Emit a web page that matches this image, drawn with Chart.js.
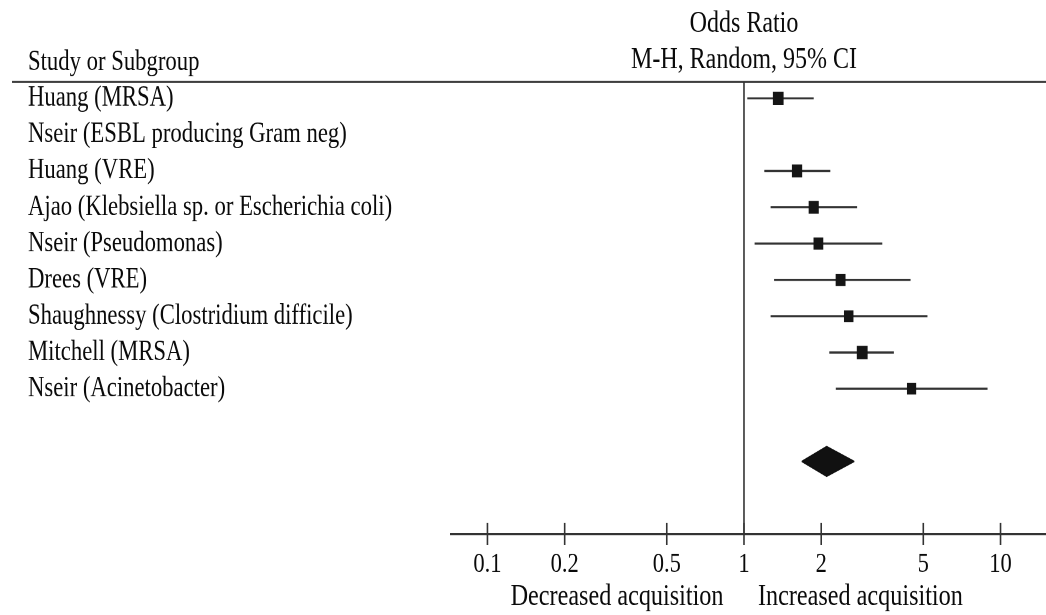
<!DOCTYPE html>
<html>
<head>
<meta charset="utf-8">
<script src="https://cdn.jsdelivr.net/npm/chart.js@4.4.1/dist/chart.umd.min.js"></script>
<style>
  html, body { margin: 0; padding: 0; background: #ffffff; width: 1046px; height: 615px; }
  #wrap { width: 1046px; height: 492px; transform: scaleY(1.25); transform-origin: 0 0; }
  canvas { display: block; }
</style>
</head>
<body>
<div id="wrap"><canvas id="c" width="1046" height="492"></canvas></div>
<script>
// ---- data ----
const studies = [
  'Huang (MRSA)',
  'Nseir (ESBL producing Gram neg)',
  'Huang (VRE)',
  'Ajao (Klebsiella sp. or Escherichia coli)',
  'Nseir (Pseudomonas)',
  'Drees (VRE)',
  'Shaughnessy (Clostridium difficile)',
  'Mitchell (MRSA)',
  'Nseir (Acinetobacter)'
];
const oddsRatio = [1.36, null, 1.61, 1.87, 1.95, 2.38, 2.56, 2.89, 4.50];
const ciLower   = [1.03, null, 1.20, 1.27, 1.10, 1.31, 1.27, 2.15, 2.28];
const ciUpper   = [1.87, null, 2.17, 2.76, 3.46, 4.46, 5.19, 3.84, 8.90];
const weights   = [14.5, null, 12.5, 12, 10.5, 11, 9.5, 15, 8.5]; // estimated from square size
const pooledOR = 2.10;
const pooledLower = 1.68;
const pooledUpper = 2.69;
const pooledRow = 10;
const xTicks = [0.1, 0.2, 0.5, 1, 2, 5, 10];
const xMin = 0.0721, xMax = 15.04;
const yMin = -0.45, yMax = 12;

const SERIF = '"Liberation Serif", "Times New Roman", serif';
const TEXT = '#0a0a0a';
const LINE = '#333333';

// ---- build datasets ----
const squares = [];
const ciSets = [];
studies.forEach((s, i) => {
  if (oddsRatio[i] == null) return;
  squares.push({x: oddsRatio[i], y: i, w: weights[i]});
  ciSets.push({
    type: 'line', order: 1,
    data: [{x: ciLower[i], y: i}, {x: ciUpper[i], y: i}],
    borderColor: LINE, borderWidth: 1.7, pointRadius: 0, fill: false
  });
});
const dH = 0.41;
const diamondTop = [
  {x: pooledLower, y: pooledRow}, {x: pooledOR, y: pooledRow - dH}, {x: pooledUpper, y: pooledRow}
];
const diamondBottom = [
  {x: pooledLower, y: pooledRow}, {x: pooledOR, y: pooledRow + dH}, {x: pooledUpper, y: pooledRow}
];
const noEffect = [{x: 1, y: yMin}, {x: 1, y: yMax}];
const tickMarks = xTicks.map(v => ({x: v, y: yMax}));

const decor = {
  id: 'decor',
  afterDraw(chart) {
    const ctx = chart.ctx;
    const xs = chart.scales.x;
    const ca = chart.chartArea;
    const x1 = xs.getPixelForValue(1);
    ctx.save();
    ctx.strokeStyle = LINE;
    ctx.lineWidth = 1.6;
    ctx.beginPath();
    ctx.moveTo(12, ca.top);
    ctx.lineTo(chart.width, ca.top);
    ctx.stroke();
    ctx.fillStyle = TEXT;
    ctx.textBaseline = 'alphabetic';
    ctx.font = '24px ' + SERIF;
    ctx.textAlign = 'center';
    ctx.fillText('Odds Ratio', x1, 25.6);
    ctx.fillText('M-H, Random, 95% CI', x1, 54.4);
    ctx.font = '22.7px ' + SERIF;
    ctx.textAlign = 'left';
    ctx.fillText('Study or Subgroup', 28, 56);
    ctx.font = '24.2px ' + SERIF;
    ctx.textAlign = 'right';
    ctx.fillText('Decreased acquisition', x1 - 20.5, 484);
    ctx.textAlign = 'left';
    ctx.fillText('Increased acquisition', x1 + 14, 484);
    ctx.restore();
  }
};

new Chart(document.getElementById('c'), {
  data: {
    datasets: [
      {
        type: 'scatter', data: squares, order: 0,
        pointStyle: 'rect', pointBackgroundColor: '#151515', pointBorderColor: '#151515', pointBorderWidth: 0,
        pointRadius: c => 1.2 * Math.sqrt(c.raw.w) + 3.0
      },
      ...ciSets,
      {
        type: 'line', data: diamondTop, order: 2,
        borderColor: '#111', borderWidth: 1, pointRadius: 0, fill: false, tension: 0
      },
      {
        type: 'line', data: diamondBottom, order: 3,
        borderColor: '#111', borderWidth: 1, pointRadius: 0, fill: '-1',
        backgroundColor: '#111', tension: 0
      },
      {
        type: 'line', data: noEffect, order: 4,
        borderColor: LINE, borderWidth: 1.6, pointRadius: 0, fill: false
      },
      {
        type: 'scatter', data: tickMarks, order: 5, clip: false,
        pointStyle: 'line', pointRotation: 90, pointRadius: 8.8, pointHoverRadius: 8.8,
        pointBorderColor: LINE, pointBorderWidth: 1.6
      }
    ]
  },
  options: {
    responsive: false,
    animation: false,
    devicePixelRatio: 2,
    events: [],
    layout: { autoPadding: false, padding: { top: 65.6, left: 28, right: 0, bottom: 0 } },
    plugins: { legend: { display: false }, tooltip: { enabled: false } },
    scales: {
      x: {
        type: 'logarithmic', position: 'bottom', offset: false,
        min: xMin, max: xMax, bounds: 'data',
        grid: { display: false, drawTicks: false },
        border: { display: true, color: LINE, width: 1.6 },
        afterBuildTicks: s => { s.ticks = xTicks.map(v => ({value: v})); },
        afterFit: s => { s.height = 64.8; s.paddingLeft = 0; s.paddingRight = 0; },
        ticks: {
          autoSkip: false, maxRotation: 0, padding: 11, color: TEXT,
          font: { family: SERIF, size: 22.5 },
          callback: v => String(v)
        }
      },
      y: {
        type: 'linear', position: 'left', reverse: true, offset: false,
        min: yMin, max: yMax, bounds: 'data',
        grid: { display: false, drawTicks: false },
        border: { display: false },
        afterBuildTicks: s => { s.ticks = studies.map((_, i) => ({value: i})); },
        afterFit: s => { s.width = 423; },
        ticks: {
          autoSkip: false, crossAlign: 'far', color: TEXT,
          font: { family: SERIF, size: 22.7 },
          callback: (v, i) => studies[i]
        }
      }
    }
  },
  plugins: [decor]
});
</script>
</body>
</html>
